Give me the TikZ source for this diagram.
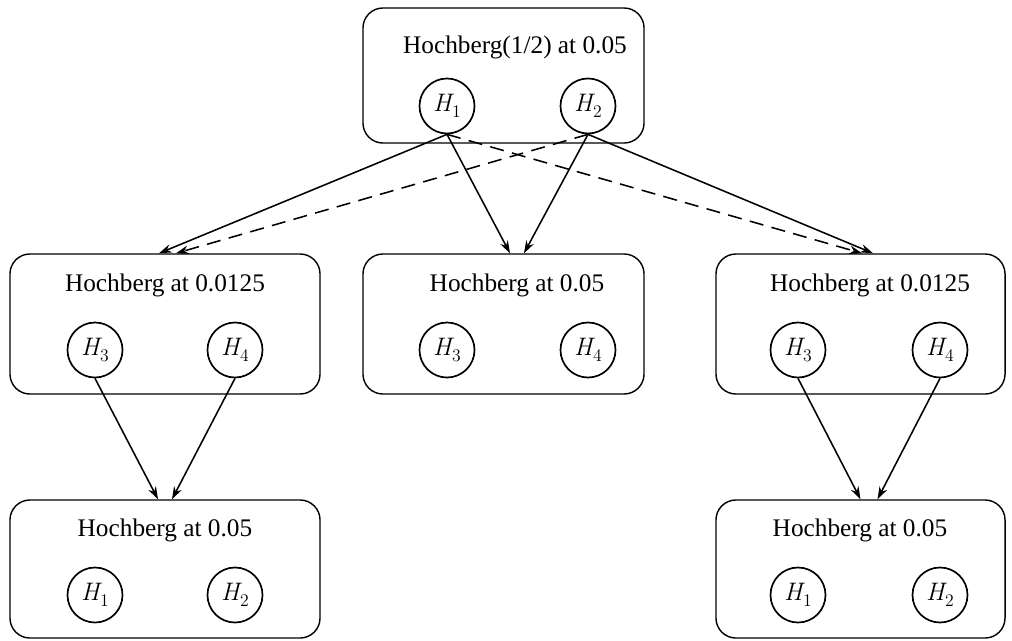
\documentclass[tikz,border=0pt]{standalone}
\usepackage[no-math]{fontspec}
\setmainfont{Liberation Serif}
\newfontfamily\lmr{Latin Modern Roman}
\usetikzlibrary{arrows.meta,calc}
\newcommand\bigsz{\fontsize{18}{22}\selectfont}
\newcommand\hname[1]{{\lmr\itshape H}\kern0.5pt\raisebox{-0.22em}{\lmr\fontsize{12.6}{14}\selectfont #1}}
\begin{document}
\begin{tikzpicture}[x=0.025cm,y=-0.025cm,
  box/.style={draw,rounded corners=0.5cm,line width=1pt,inner sep=0pt},
  hyp/.style={draw,circle,line width=1.2pt,minimum size=1.375cm,inner sep=0pt,font=\bigsz},
  ttl/.style={inner sep=0pt,font=\bigsz},
  arr/.style={line width=1.1pt,-{Stealth[length=9pt,width=6pt]}},
  darr/.style={arr,dash pattern=on 10pt off 6pt}]
\useasboundingbox (0,0) rectangle (1012,640);
% boxes
\node[box,minimum width=7.025cm,minimum height=3.375cm] (top) at (503.5,75.5) {};
\node[box,minimum width=7.75cm,minimum height=3.5cm] (ml) at (165,324) {};
\node[box,minimum width=7.025cm,minimum height=3.5cm] (mm) at (503.5,324) {};
\node[box,minimum width=7.225cm,minimum height=3.5cm] (mr) at (860.5,324) {};
\node[box,minimum width=7.75cm,minimum height=3.45cm] (bl) at (165,569) {};
\node[box,minimum width=7.225cm,minimum height=3.45cm] (br) at (860.5,569) {};
% titles
\node[ttl] (ttop) at (515,47) {Hochberg(1/2) at 0.05};
\node[ttl] (tml) at (165,285) {Hochberg at 0.0125};
\node[ttl] (tmm) at (517,285) {Hochberg at 0.05};
\node[ttl] (tmr) at (870,285) {Hochberg at 0.0125};
\node[ttl] (tbl) at (165,530) {Hochberg at 0.05};
\node[ttl] (tbr) at (860,530) {Hochberg at 0.05};
% hypotheses
\node[hyp] (t1) at (447,106) {\hname{1}};
\node[hyp] (t2) at (588,106) {\hname{2}};
\node[hyp] (ml3) at (95,350) {\hname{3}};
\node[hyp] (ml4) at (235,350) {\hname{4}};
\node[hyp] (mm3) at (447,350) {\hname{3}};
\node[hyp] (mm4) at (588,350) {\hname{4}};
\node[hyp] (mr3) at (798,350) {\hname{3}};
\node[hyp] (mr4) at (940,350) {\hname{4}};
\node[hyp] (bl1) at (95,595) {\hname{1}};
\node[hyp] (bl2) at (235,595) {\hname{2}};
\node[hyp] (br1) at (798,595) {\hname{1}};
\node[hyp] (br2) at (940,595) {\hname{2}};
% arrows
\draw[arr] (t1.south) -- ($(ml.north)+(-6,0)$);
\draw[darr] (t2.south) -- ($(ml.north)+(11,0)$);
\draw[arr] (t1.south) -- ($(mm.north)+(6.5,0)$);
\draw[arr] (t2.south) -- ($(mm.north)+(20.5,0)$);
\draw[darr] (t1.south) -- ($(mr.north)+(1.5,0)$);
\draw[arr] (t2.south) -- ($(mr.north)+(12.5,0)$);
\draw[arr] (ml3.south) -- ($(bl.north)+(-7,0)$);
\draw[arr] (ml4.south) -- ($(bl.north)+(7,0)$);
\draw[arr] (mr3.south) -- ($(br.north)+(0,0)$);
\draw[arr] (mr4.south) -- ($(br.north)+(17,0)$);
\end{tikzpicture}
\end{document}
